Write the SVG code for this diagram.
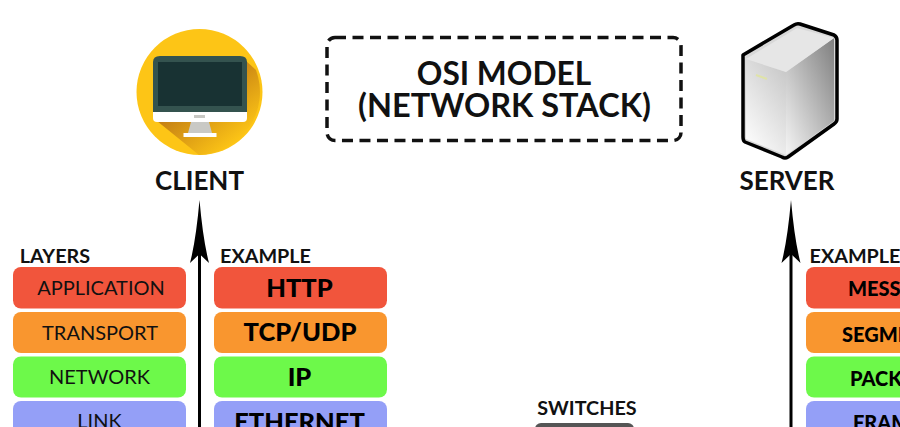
<svg xmlns="http://www.w3.org/2000/svg" width="900" height="427" viewBox="0 0 900 427">
<style>
text{font-family:Lato,"Liberation Sans",sans-serif;fill:#111;text-anchor:middle}
.hd{font-weight:700;font-size:19.800px}
.lb{font-weight:700;font-size:26px}
.ly{font-size:20px}
.ex{font-weight:900;font-size:25.500px;fill:#000}
.pd{font-weight:900;font-size:20px;fill:#000;text-anchor:start}
.red{fill:#f1553c}.org{fill:#f9962f}.grn{fill:#6df94a}.blu{fill:#949ff7}
</style>
<defs>
<linearGradient id="shd" gradientUnits="userSpaceOnUse" x1="200" y1="90" x2="240" y2="140"><stop offset="0" stop-color="#c47f14"/><stop offset="1" stop-color="#fdc516"/></linearGradient>
<linearGradient id="fl" x1="0.2" y1="1" x2="0.8" y2="0"><stop offset="0" stop-color="#fdfdfd"/><stop offset="1" stop-color="#c9c9c9"/></linearGradient>
<linearGradient id="fr" x1="0" y1="1" x2="1" y2="0"><stop offset="0" stop-color="#f5f5f5"/><stop offset="1" stop-color="#7f7f7f"/></linearGradient>
</defs>
<g id="connectors">
<path d="M199.500 432V252" stroke="#000" stroke-width="3" fill="none"/>
<path d="M199.500 200Q203 240 209 263L199.500 254L190 263Q196 240 199.500 200Z" fill="#000"/>
<path d="M791 432V252" stroke="#000" stroke-width="3" fill="none"/>
<path d="M791 200Q794.500 240 800.500 263L791 254L781.500 263Q787.500 240 791 200Z" fill="#000"/>
</g>
<g id="client">
<circle cx="199.500" cy="92" r="63" fill="#fdc516"/>
<path d="M245 60L256 70A63 63 0 0 1 199 155L157 121Z" fill="url(#shd)"/>
<path d="M153 113V62Q153 56 160 56H240Q247 56 247 62V113Z" fill="#34534f"/>
<rect x="158" y="62" width="84" height="44" fill="#183233"/>
<path d="M153 112H247V118Q247 122 243 122H157Q153 122 153 118Z" fill="#fff"/>
<rect x="194" y="115" width="11" height="3" fill="#c8c8c4"/>
<path d="M191 122H209L212 133H188Z" fill="#c9c9c5"/>
<rect x="183.500" y="133" width="33" height="4" fill="#fff"/>
<text class="lb" x="199.500" y="189.500">CLIENT</text>
</g>
<g id="server">
<path d="M743 55L794 25Q797 23 800 24L834 35Q837 37 837 40V119Q837 122 834 124L788 157Q785 159 782 157L745 142Q743 141 743 137Z" fill="#d8d8d8" stroke="#000" stroke-width="3.500" stroke-linejoin="round"/>
<path d="M746 59L786 72V155L746 139Z" fill="url(#fl)"/>
<path d="M786 72L834 38V121L786 155Z" fill="url(#fr)"/>
<path d="M746 59L797 28L834 38L786 72Z" fill="#e6e6e6"/>
<path d="M756 75L767 79" stroke="#dfe3a8" stroke-width="2"/>
<text class="lb" x="787" y="189.500">SERVER</text>
</g>
<g id="title">
<rect x="327" y="37.500" width="354" height="103" rx="8" fill="none" stroke="#111" stroke-width="3.500" stroke-dasharray="11 6.500"/>
<text x="504" y="84.500" font-size="31.700" font-weight="700">OSI MODEL</text>
<text x="504.500" y="117" font-size="32.500" font-weight="700">(NETWORK STACK)</text>
</g>
<g id="layers">
<text class="hd" x="55" y="263">LAYERS</text>
<rect class="red" x="13" y="267" width="173" height="41.500" rx="8"/><text class="ly" x="101" y="295">APPLICATION</text>
<rect class="org" x="13" y="312" width="173" height="41" rx="8"/><text class="ly" x="100" y="340">TRANSPORT</text>
<rect class="grn" x="13" y="356.500" width="173" height="41" rx="8"/><text class="ly" x="99.500" y="384">NETWORK</text>
<rect class="blu" x="13" y="401" width="173" height="41" rx="8"/><text class="ly" x="99.500" y="428">LINK</text>
</g>
<g id="client-example">
<text class="hd" x="265.500" y="263">EXAMPLE</text>
<rect class="red" x="214" y="267" width="173" height="41.500" rx="8"/><text class="ex" x="299.500" y="297">HTTP</text>
<rect class="org" x="214" y="312" width="173" height="41" rx="8"/><text class="ex" x="300" y="341">TCP/UDP</text>
<rect class="grn" x="214" y="356.500" width="173" height="41" rx="8"/><text class="ex" x="299.500" y="386">IP</text>
<rect class="blu" x="214" y="401" width="173" height="41" rx="8"/><text class="ex" x="299.500" y="431">ETHERNET</text>
</g>
<g id="server-example">
<text class="hd" x="855" y="263">EXAMPLE</text>
<rect class="red" x="806" y="267" width="173" height="41.500" rx="8"/><text class="pd" x="848" y="296">MESSAGE</text>
<rect class="org" x="806" y="312" width="173" height="41" rx="8"/><text class="pd" x="842" y="342">SEGMENT</text>
<rect class="grn" x="806" y="356.500" width="173" height="41" rx="8"/><text class="pd" x="850" y="386">PACKET</text>
<rect class="blu" x="806" y="401" width="173" height="41" rx="8"/><text class="pd" x="853" y="430">FRAME</text>
</g>
<g id="switches">
<text class="hd" x="587" y="414.500">SWITCHES</text>
<rect x="535" y="423" width="99" height="30" rx="6" fill="#555"/>
</g>
</svg>
